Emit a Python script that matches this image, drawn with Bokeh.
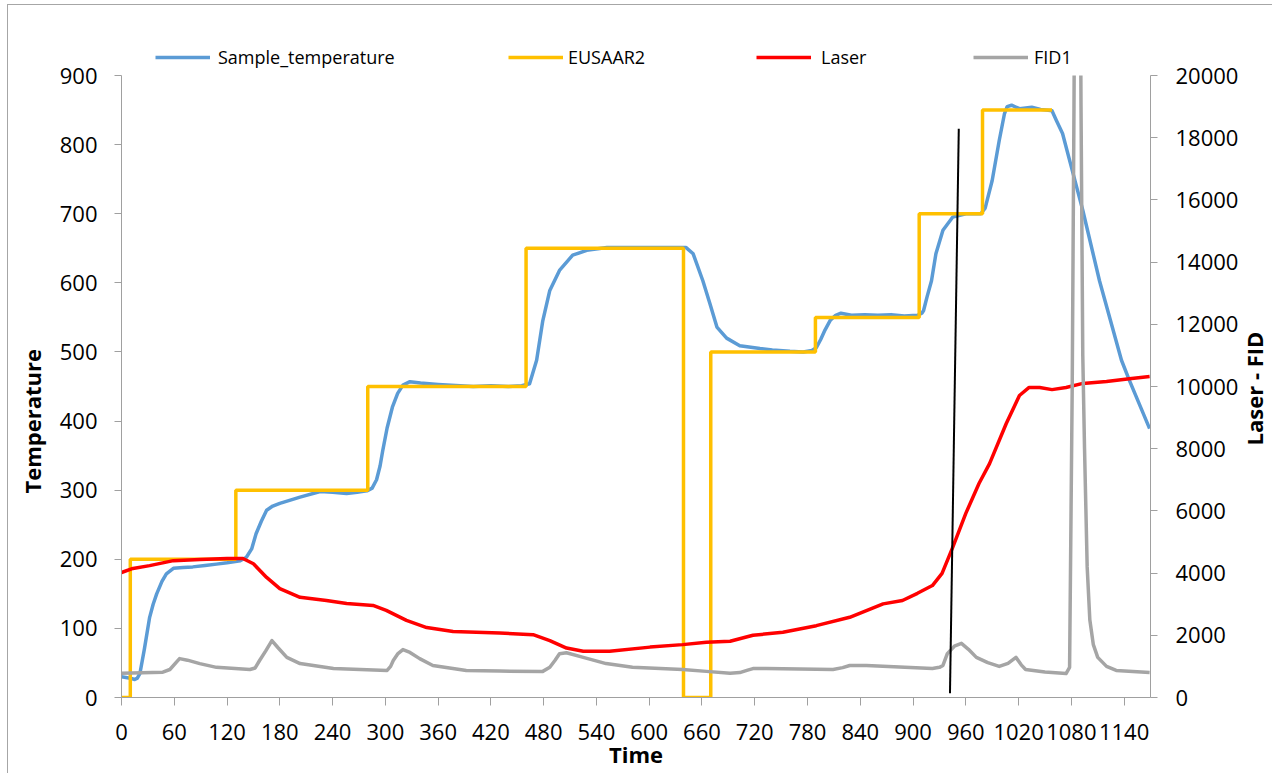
import math
from bokeh.plotting import figure
from bokeh.models import (Range1d, LinearAxis, FixedTicker, Legend, LegendItem, Title, Label,
                          InlineStyleSheet)
from bokeh.embed import file_html
from bokeh.resources import INLINE
from bokeh.core.properties import value

# ---------------- data ----------------
x_ticks = list(range(0, 1141, 60))
temp_ticks = list(range(0, 901, 100))
right_ticks = list(range(0, 20001, 2000))
temp_max = 900
right_max = 20000

series_names = ["Sample_temperature", "EUSAAR2", "Laser", "FID1"]
series_colors = ["#5B9BD5", "#FFC000", "#FF0000", "#A5A5A5"]

sample_t = [0, 5, 10, 15, 18, 21, 26, 32, 36, 40, 46, 51, 59, 70, 81, 95, 108, 120, 135, 142, 148, 153, 159,
            165, 172, 180, 203, 226, 240, 256, 268, 279, 285, 290, 294, 297, 302, 308, 314, 320, 328, 340,
            360, 400, 420, 440, 455, 464, 472, 479, 487, 498, 513, 529, 552, 600, 642, 650, 661, 669, 677,
            688, 703, 726, 740, 760, 775, 785, 790, 795, 800, 806, 812, 818, 830, 845, 860, 875, 890, 905,
            910, 912, 916, 921, 926, 934, 945, 960, 977, 982, 990, 998, 1004, 1007, 1012, 1021, 1035, 1045,
            1058, 1063, 1070, 1082, 1093, 1112, 1137, 1146, 1169]
sample_temperature = [30, 29, 28, 26, 28, 35, 70, 116, 135, 150, 168, 179, 187, 188, 189, 191, 193, 195, 198,
                      203, 215, 237, 255, 271, 277, 281, 290, 298, 297, 295, 297, 299, 303, 315, 335, 357,
                      390, 420, 440, 452, 457, 455, 453, 450, 451, 450, 451, 454, 488, 545, 589, 618, 640,
                      647, 651, 651, 651, 642, 603, 570, 536, 520, 509, 505, 503, 501, 500, 502, 506, 518,
                      532, 546, 553, 556, 553, 554, 553, 554, 552, 553, 556, 560, 580, 603, 642, 676, 695,
                      700, 700, 708, 748, 806, 845, 855, 857, 852, 854, 851, 849, 835, 816, 758, 705, 603,
                      488, 459, 389]

eusaar_t = [0, 10, 130, 280, 460, 639, 670, 789, 907, 979, 1058]
eusaar2 = [0, 200, 300, 450, 650, 0, 500, 550, 700, 850, 850]

laser_t = [0, 13, 32, 59, 89, 120, 138, 150, 165, 180, 203, 233, 256, 286, 301, 324, 347, 377, 430, 468, 487,
           506, 525, 555, 601, 638, 665, 692, 718, 752, 790, 828, 866, 888, 905, 922, 933, 945, 960, 975,
           987, 1006, 1021, 1032, 1044, 1058, 1074, 1093, 1120, 1146, 1169]
laser = [4020, 4150, 4240, 4400, 4440, 4470, 4470, 4300, 3860, 3500, 3220, 3120, 3020, 2960, 2800, 2480, 2250,
         2120, 2070, 2020, 1830, 1590, 1490, 1490, 1620, 1700, 1780, 1810, 2000, 2100, 2310, 2580, 3010,
         3120, 3350, 3600, 3990, 4820, 5920, 6880, 7520, 8810, 9710, 9970, 9970, 9900, 9970, 10100, 10160,
         10250, 10320]

fid_t = [0, 47, 55, 66, 75, 89, 108, 146, 152, 157, 164, 171, 178, 188, 203, 241, 302, 306, 309, 314, 320,
         328, 339, 354, 392, 430, 479, 487, 493, 498, 506, 524, 551, 581, 638, 665, 692, 703, 712, 718, 733,
         809, 820, 828, 847, 922, 930, 934, 939, 947, 955, 963, 972, 985, 998, 1008, 1017, 1023, 1028, 1050,
         1074, 1078, 1081, 1083, 1087, 1091, 1093, 1095, 1098, 1101, 1105, 1110, 1120, 1131, 1169]
fid1 = [780, 815, 900, 1250, 1200, 1090, 970, 900, 950, 1190, 1500, 1830, 1600, 1290, 1090, 930, 870, 1000,
        1190, 1400, 1540, 1450, 1250, 1030, 870, 850, 840, 970, 1200, 1410, 1440, 1300, 1090, 970, 900, 840,
        780, 800, 880, 930, 930, 900, 960, 1030, 1030, 930, 970, 1030, 1410, 1650, 1740, 1550, 1290, 1120,
        1000, 1100, 1290, 1050, 900, 820, 770, 970, 10000, 19000, 40000, 19000, 11000, 8000, 4200, 2500,
        1700, 1290, 1000, 870, 800]

marker_t = [942, 952]
marker_temp = [6, 823]


def clip_to_axis(ts, vs, vmax):
    """Cut a series where it leaves the top of the axis (as the plot area does in the original)."""
    out_t, out_v = [], []
    for i, (t, v) in enumerate(zip(ts, vs)):
        if i > 0:
            t0, v0 = ts[i - 1], vs[i - 1]
            if (v0 <= vmax) != (v <= vmax):
                tc = t0 + (vmax - v0) * (t - t0) / (v - v0)
                out_t.append(tc)
                out_v.append(vmax)
                if v > vmax:
                    out_t.append(tc)
                    out_v.append(float("nan"))
        if v <= vmax:
            out_t.append(t)
            out_v.append(v)
    return out_t, out_v


fid_plot_t, fid_plot = clip_to_axis(fid_t, fid1, right_max)

# ---------------- layout / styling ----------------
FONT = "Open Sans"
AXIS_GRAY = "#A0A0A0"
LW = 3.5
W, H = 1272, 773
FRAME_LEFT, FRAME_RIGHT = 121, 1150
FRAME_TOP, AXIS_TOP, FRAME_BOTTOM = 45, 75, 697   # legend lives in the frame strip above the axes' top
stretch = (FRAME_BOTTOM - FRAME_TOP) / (FRAME_BOTTOM - AXIS_TOP)

p = figure(width=W, height=H, output_backend="svg", toolbar_location=None,
           x_range=Range1d(0, 1170), y_range=Range1d(0, temp_max * stretch),
           min_border_left=FRAME_LEFT, min_border_right=W - FRAME_RIGHT,
           min_border_top=FRAME_TOP, min_border_bottom=H - FRAME_BOTTOM)
p.extra_y_ranges = {"right": Range1d(0, right_max * stretch)}
p.xgrid.visible = False
p.ygrid.visible = False
p.outline_line_color = None
p.background_fill_color = "white"
p.border_fill_color = "white"
p.stylesheets = [InlineStyleSheet(css=":host::after { content: ''; position: absolute; left: 7px; top: 4px; "
                                      "right: 0px; bottom: 0px; border-left: 1px solid #A6A6A6; "
                                      "border-top: 1px solid #A6A6A6; pointer-events: none; }")]

r_blue = p.line(sample_t, sample_temperature, line_color=series_colors[0], line_width=LW, line_join="round")
r_orange = p.step(eusaar_t, eusaar2, mode="after", line_color=series_colors[1], line_width=LW)
r_red = p.line(laser_t, laser, y_range_name="right", line_color=series_colors[2], line_width=LW,
               line_join="round")
r_gray = p.line(fid_plot_t, fid_plot, y_range_name="right", line_color=series_colors[3], line_width=LW,
                line_join="round")
p.line(marker_t, marker_temp, line_color="black", line_width=2)

right_axis = LinearAxis(y_range_name="right")
p.add_layout(right_axis, "right")

for ax in [p.xaxis[0], p.yaxis[0], right_axis]:
    ax.axis_line_color = AXIS_GRAY
    ax.major_tick_line_color = AXIS_GRAY
    ax.minor_tick_line_color = None
    ax.major_tick_in = 0
    ax.major_label_text_font = FONT
    ax.major_label_text_font_size = "22px"
    ax.major_label_text_color = "black"
    ax.axis_label_text_font = FONT
    ax.axis_label_text_font_size = "22px"
    ax.axis_label_text_font_style = "bold"
    ax.axis_label_text_color = "black"

p.xaxis[0].ticker = FixedTicker(ticks=x_ticks)
p.xaxis[0].major_tick_out = 8
p.xaxis[0].major_label_standoff = 18
p.xaxis[0].axis_label = "Time"
p.xaxis[0].axis_label_standoff = -4
p.yaxis[0].ticker = FixedTicker(ticks=temp_ticks)
p.yaxis[0].bounds = (0, temp_max)
p.yaxis[0].major_tick_out = 7
p.yaxis[0].major_label_standoff = 17
right_axis.ticker = FixedTicker(ticks=right_ticks)
right_axis.bounds = (0, right_max)
right_axis.major_tick_out = 7
right_axis.major_label_standoff = 18

# left title (placed lower than centre, as in the reference)
p.add_layout(Title(text="Temperature", align="left", offset=204, text_font=FONT, text_font_size="22px",
                   text_font_style="bold", text_color="black", standoff=20), "left")

# right title: a rotated label in the right-hand panel, positioned through the plot's scales
px_per_t = (FRAME_RIGHT - FRAME_LEFT) / 1170
px_per_temp = (FRAME_BOTTOM - FRAME_TOP) / (temp_max * stretch)
p.add_layout(Label(x=(1253.5 - FRAME_LEFT) / px_per_t, y=(FRAME_BOTTOM - 388) / px_per_temp,
                   text="Laser - FID", angle=math.pi / 2, text_align="center", text_baseline="middle",
                   text_font=FONT, text_font_size="22px", text_font_style="bold", text_color="black"),
             "right")

# legend: one entry per series, placed along the top strip
legend_x = [155, 508, 756, 973]
legend_standoff = [8, 5, 10, 6]
for r, name, vx, so in zip([r_blue, r_orange, r_red, r_gray], series_names, legend_x, legend_standoff):
    leg = Legend(items=[LegendItem(label=value(name), renderers=[r])],
                 location=(vx - FRAME_LEFT, FRAME_BOTTOM - 58 - 11),
                 orientation="horizontal", glyph_width=55, glyph_height=20, label_standoff=so,
                 padding=0, margin=0, spacing=0, border_line_color=None, background_fill_alpha=0,
                 label_text_font=FONT, label_text_font_size="18px", label_text_color="black")
    p.add_layout(leg, "center")

open("out.html", "w").write(file_html(p, INLINE))
